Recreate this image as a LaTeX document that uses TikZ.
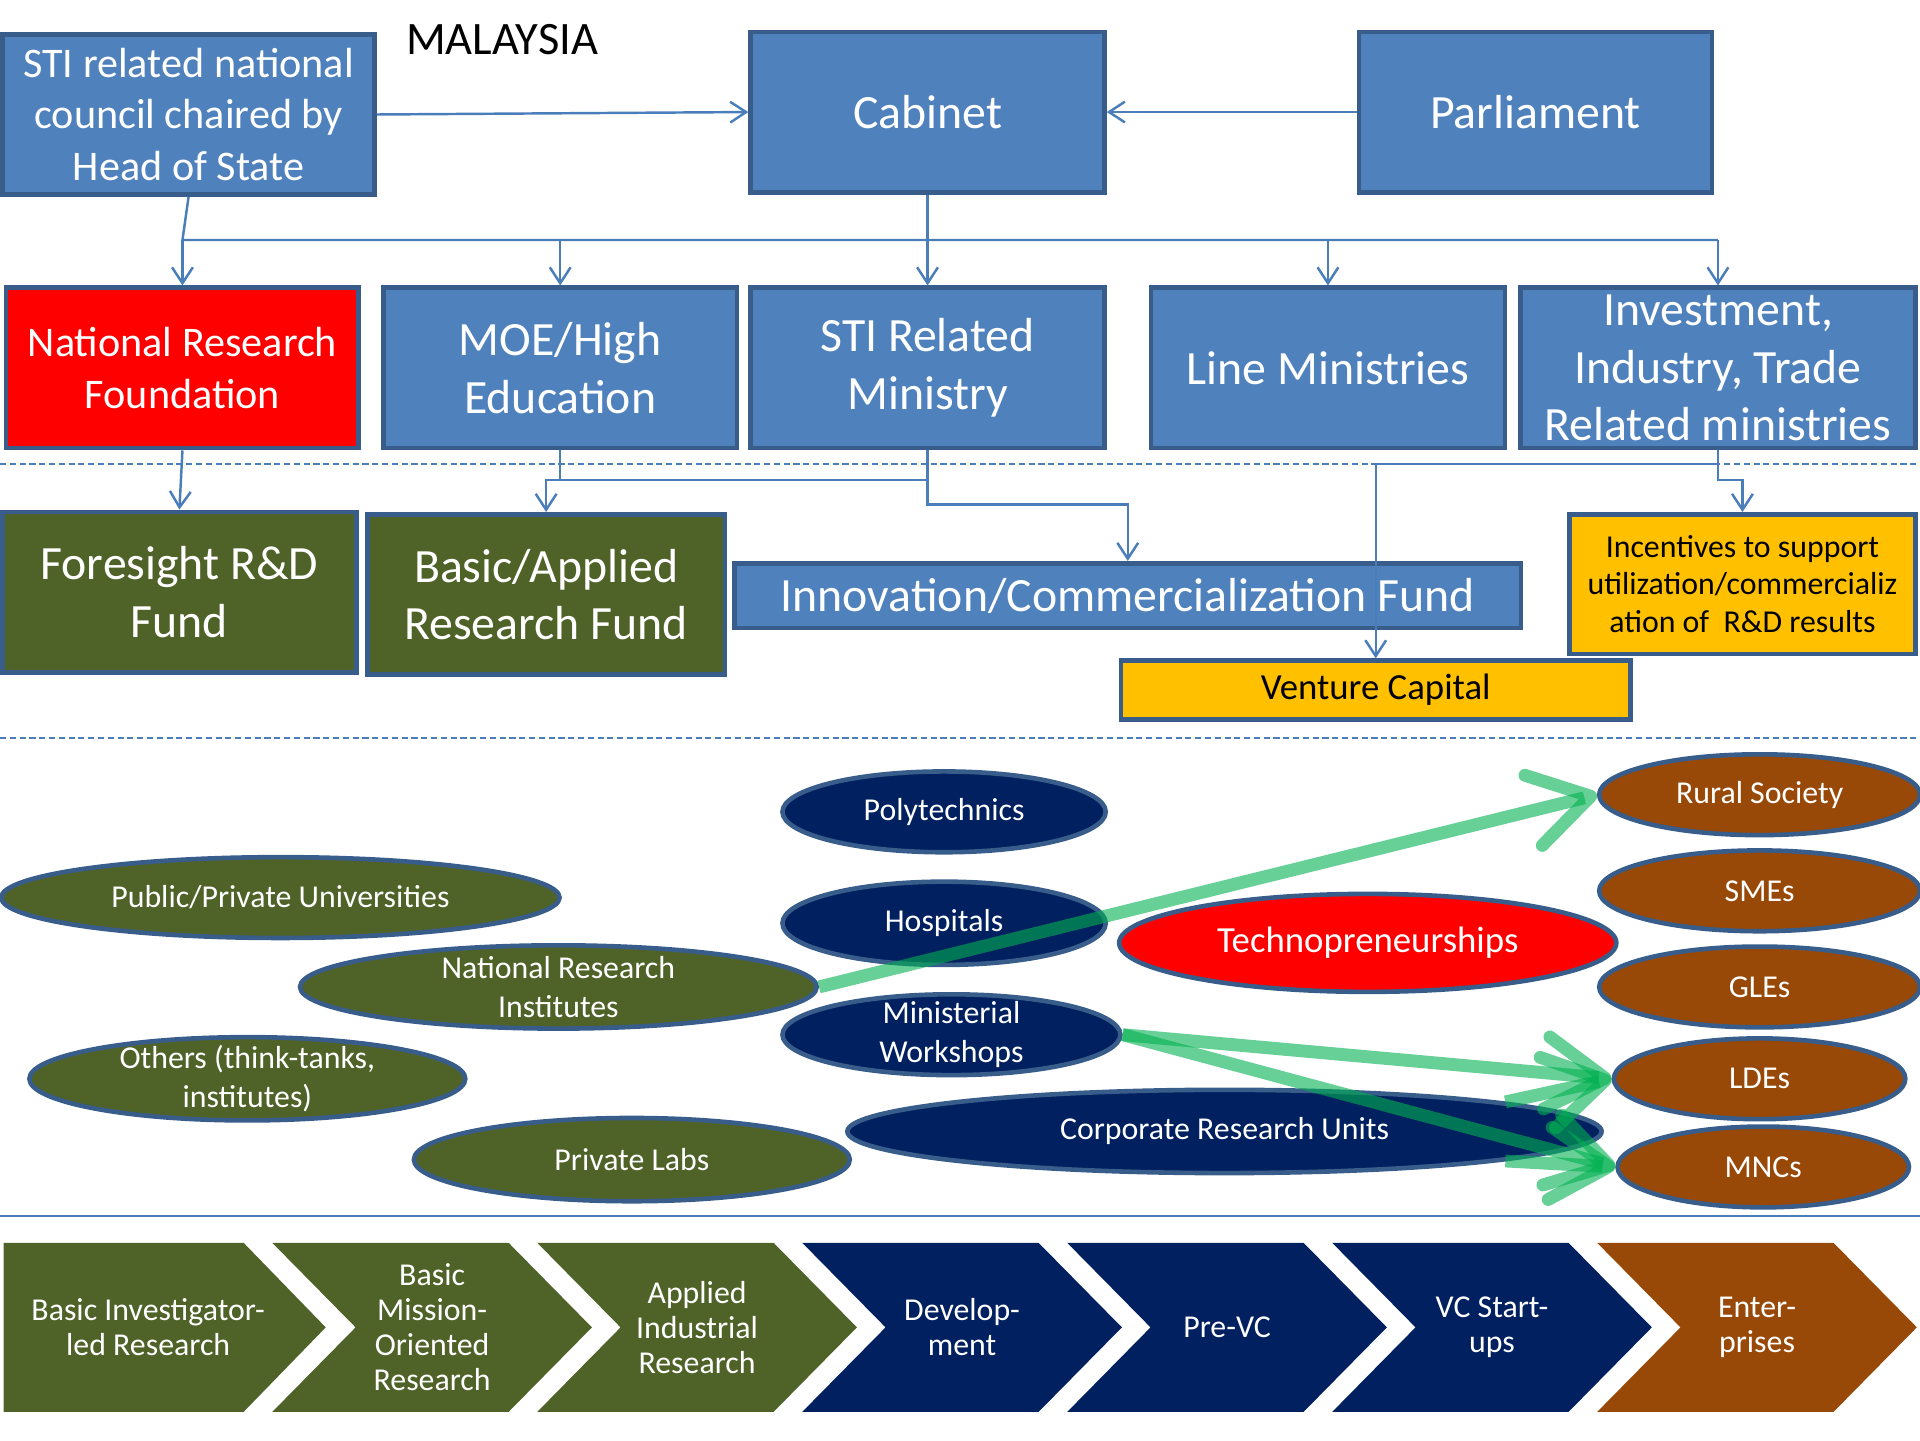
\documentclass[tikz,border=0pt]{standalone}
\usepackage{fontspec}
\setmainfont{Carlito}
\usetikzlibrary{shapes.geometric,arrows.meta}

\definecolor{boxblue}{HTML}{4F81BD}
\definecolor{edgeblue}{HTML}{385D8A}
\definecolor{linkblue}{HTML}{4A7EBB}
\definecolor{fundgreen}{HTML}{4F6228}
\definecolor{gold}{HTML}{FFC000}
\definecolor{navy}{HTML}{002060}
\definecolor{rust}{HTML}{984807}
\definecolor{flowgreen}{HTML}{00B050}

\newcommand{\bigtxt}{\fontsize{22.2}{26.7}\selectfont}
\newcommand{\midtxt}{\fontsize{19.6}{23.9}\selectfont}
\newcommand{\smalltxt}{\fontsize{14.8}{18.2}\selectfont}
\newcommand{\incenttxt}{\fontsize{14.8}{17.6}\selectfont}
\newcommand{\chevtxt}{\fontsize{14.8}{16.3}\selectfont}
\newcommand{\vctxt}{\fontsize{17.1}{20}\selectfont}

\begin{document}
\begin{tikzpicture}[x=0.2mm,y=-0.2mm,
        box/.style 2 args={rectangle,draw=edgeblue,line width=0.75mm,fill=boxblue,text=white,align=center,inner sep=0pt,minimum width=#1*0.2mm,minimum height=#2*0.2mm},
        oval/.style n args={3}{ellipse,draw=edgeblue,line width=0.75mm,fill=#1,text=white,align=center,inner xsep=0pt,inner ysep=-3mm,minimum width=#2*0.4mm,minimum height=#3*0.4mm,font=\smalltxt},
        stage/.style={text=white,align=center,font=\chevtxt},
        link/.style={draw=linkblue,line width=0.4mm},
        flow/.style={draw=flowgreen,opacity=0.6,line width=2.1mm,-{Straight Barb[round,length=9.6mm,width=11.8mm]}},
        >={Straight Barb[length=2.6mm,width=3.4mm]}]
        \useasboundingbox (0,0) rectangle (1568,1176);

        % separators
        \draw[linkblue,line width=0.3mm,dash pattern=on 1mm off 0.6mm](0,379)--(1568,379);
        \draw[linkblue,line width=0.3mm,dash pattern=on 1mm off 0.6mm](0,603)--(1568,603);
        \draw[linkblue,line width=0.4mm](0,993)--(1568,993);

        \node (title) at (410,32) {\fontsize{21.6}{26}\selectfont MALAYSIA};

        % top row
        \node[box={304}{131},font=\midtxt] (council) at (154,93.5) {STI related national\\council chaired by\\Head of State};
        \node[box={289}{131},font=\bigtxt] (cabinet) at (757.5,91.5) {Cabinet};
        \node[box={288}{131},font=\bigtxt] (parl) at (1254,91.5) {Parliament};

        % ministries
        \node[box={288}{131},fill=red,font=\midtxt] (nrf) at (149,300.5) {National Research\\Foundation};
        \node[box={289}{131},font=\bigtxt] (moe) at (457.5,300.5) {MOE/High\\Education};
        \node[box={289}{131},font=\bigtxt] (stim) at (757.5,300.5) {STI Related\\Ministry};
        \node[box={289}{131},font=\bigtxt] (line) at (1084.5,300.5) {Line Ministries};
        \node[box={323}{131},font=\bigtxt] (iitr) at (1403,300.5) {Investment,\\Industry, Trade\\Related ministries};

        % funds
        \node[box={289}{131},fill=fundgreen,font=\bigtxt] (foresight) at (146.5,483.5) {Foresight R\&D\\Fund};
        \node[box={292}{131},fill=fundgreen,font=\bigtxt] (basic) at (446,485.5) {Basic/Applied\\Research Fund};
        \node[box={642}{53},font=\bigtxt] (innov) at (921,486.5) {Innovation/Commercialization Fund};
        \node[box={283}{114},fill=gold,text=black,font=\incenttxt] (incent) at (1423,477) {Incentives to support\\utilization/commercializ\\ation of~ R\&D results};
        \node[box={416}{48},fill=gold,text=black,font=\vctxt] (vc) at (1123.5,563.5) {Venture Capital};

        % connectors
        \coordinate (bus) at (0,196);
        \coordinate (cut) at (0,379);
        \coordinate (split) at (0,392);
        \coordinate (drop) at (0,412);

        \draw[link,->](council.east)--(cabinet.west);
        \draw[link,->](parl.west)--(cabinet.east);
        \draw[link](council.south)--(nrf.north |- bus)--(iitr.north |- bus);
        \draw[link](cabinet.south)--(cabinet.south |- bus);
        \foreach \n in {nrf,moe,stim,line,iitr}
            \draw[link,->](\n.north |- bus)--(\n.north);

        \draw[link,->](nrf.south)--(foresight.north);
        \draw[link,->](stim.south |- split)-|(basic.north);
        \draw[link](moe.south)--(moe.south |- split);
        \draw[link,->](stim.south)--(stim.south |- drop)-|(innov.north);
        \draw[link,->](iitr.south)--(iitr.south |- split)-|(incent.north);
        \draw[link,->](iitr.south |- cut)-|(vc.north);

        % actors
        \node[oval={fundgreen}{228}{33}] (univ) at (229,733) {Public/Private Universities};
        \node[oval={fundgreen}{211}{34}] (nri) at (456,806) {National Research\\Institutes};
        \node[oval={fundgreen}{178}{34}] (others) at (202,881) {Others (think-tanks,\\institutes)};
        \node[oval={navy}{308}{34}] (cru) at (1000,924) {Corporate Research Units};
        \node[oval={fundgreen}{178}{34}] (labs) at (516,947) {Private Labs};
        \node[oval={navy}{132}{33}] (poly) at (771,663) {Polytechnics};
        \node[oval={navy}{132}{34}] (hosp) at (771,754) {Hospitals};
        \node[oval={navy}{138}{33}] (mws) at (777,845) {Ministerial\\Workshops};
        \node[oval={red}{203}{40},font=\vctxt] (techno) at (1117,770) {Technopreneurships};
        \node[oval={rust}{131}{33}] (rural) at (1437,649) {Rural Society};
        \node[oval={rust}{131}{33}] (smes) at (1437,727.5) {SMEs};
        \node[oval={rust}{131}{33}] (gles) at (1437,806) {GLEs};
        \node[oval={rust}{119}{33}] (ldes) at (1437,881) {LDEs};
        \node[oval={rust}{119}{33}] (mncs) at (1440,953) {MNCs};

        \draw[flow](nri.east)--(rural.west);
        \draw[flow](mws.east)--(ldes.west);
        \draw[flow](mws.east)--(mncs.west);
        \draw[flow](cru.6)--(ldes.west);
        \draw[flow](cru.-6)--(mncs.west);

        % stages
        \fill[fundgreen](3,1015)--(199,1015)--(266,1084)--(199,1153)--(3,1153)--cycle;
        \node[stage] (stage0) at (121,1084) {Basic Investigator-\\led Research};
        \foreach \i/\col/\txt in {1/fundgreen/{Basic\\Mission-\\Oriented\\Research},2/fundgreen/{Applied\\Industrial\\Research},3/navy/{Develop-\\ment},4/navy/{Pre-VC},5/navy/{VC Start-\\ups},6/rust/{Enter-\\prises}}{
            \pgfmathsetmacro{\x}{6+216.4*\i}
            \fill[\col](\x,1015)--++(193,0)--++(68,69)--++(-68,69)--++(-193,0)--++(68,-69)--cycle;
            \node[stage] (stage\i) at (\x+130.5,1084) {\txt};
        }
    \end{tikzpicture}
\end{document}
